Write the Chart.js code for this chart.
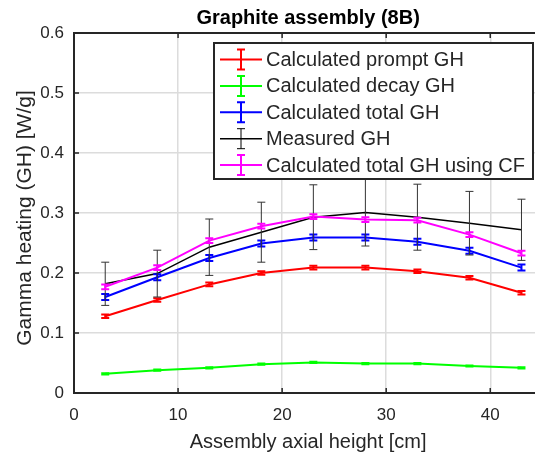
<!DOCTYPE html>
<html>
<head>
<meta charset="utf-8">
<script src="https://cdn.jsdelivr.net/npm/chart.js@4"></script>
<style>
  html, body { margin: 0; padding: 0; background: #fff; }
  #wrap { width: 535px; height: 453px; }
</style>
</head>
<body>
<div id="wrap"><canvas id="gh-chart" width="535" height="453"></canvas></div>
<script>
// axial positions [cm]
const heights = [3, 8, 13, 18, 23, 28, 33, 38, 43];

// gamma heating values [W/g]
const promptGH   = [0.128, 0.155, 0.181, 0.200, 0.209, 0.209, 0.203, 0.192, 0.167];
const decayGH    = [0.032, 0.038, 0.042, 0.048, 0.051, 0.049, 0.049, 0.045, 0.042];
const totalGH    = [0.160, 0.193, 0.225, 0.249, 0.259, 0.259, 0.252, 0.237, 0.209];
const measuredGH = [0.182, 0.199, 0.243, 0.268, 0.293, 0.301, 0.293, 0.283, 0.272];
const totalCF    = [0.177, 0.209, 0.254, 0.278, 0.294, 0.289, 0.288, 0.264, 0.233];

// error bar half-widths
const promptErr   = [0.003, 0.003, 0.003, 0.003, 0.003, 0.003, 0.003, 0.003, 0.003];
const decayErr    = [0.001, 0.001, 0.001, 0.001, 0.001, 0.001, 0.001, 0.001, 0.001];
const totalErr    = [0.005, 0.005, 0.005, 0.005, 0.005, 0.005, 0.005, 0.005, 0.005];
const measuredErr = [0.036, 0.039, 0.047, 0.050, 0.054, 0.056, 0.055, 0.053, 0.051];
const totalCFErr  = [0.004, 0.004, 0.004, 0.004, 0.004, 0.004, 0.004, 0.004, 0.004];

const xTicks = [0, 10, 20, 30, 40];
const yTicks = [0, 0.1, 0.2, 0.3, 0.4, 0.5, 0.6];

const FONT = '"Liberation Sans", Arial, Helvetica, sans-serif';
const TXT = '#262626';

function pts(vals) {
    return heights.map((h, i) => ({ x: h, y: vals[i] }));
}

function mkSet(label, vals, errs, color, width, capW, errW, order) {
    return {
        label,
        data: pts(vals),
        errors: errs,
        borderColor: color,
        backgroundColor: color,
        borderWidth: width,
        pointRadius: 0,
        tension: 0,
        capW, errW,
        order
    };
}

const datasets = [
    mkSet('Calculated prompt GH', promptGH, promptErr, '#ff0000', 2, 4, 2, 5),
    mkSet('Calculated decay GH', decayGH, decayErr, '#00ff00', 2, 4, 2, 4),
    mkSet('Calculated total GH', totalGH, totalErr, '#0000ff', 2, 4, 2, 3),
    mkSet('Measured GH', measuredGH, measuredErr, '#000000', 1.5, 4, 1, 2),
    mkSet('Calculated total GH using CF', totalCF, totalCFErr, '#ff00ff', 2, 4, 2, 1)
];

// error bars drawn through the scales
const errorBars = {
    id: 'errorBars',
    afterDatasetsDraw(chart) {
        const { ctx, scales: { x, y } } = chart;
        ctx.save();
        ctx.beginPath();
        ctx.rect(chart.chartArea.left, chart.chartArea.top, chart.chartArea.width, chart.chartArea.height);
        ctx.clip();
        [...chart.data.datasets].sort((a, b) => b.order - a.order).forEach(ds => {
            ctx.strokeStyle = ds.borderColor === '#000000' ? '#333' : ds.borderColor;
            ctx.lineWidth = ds.errW;
            ds.data.forEach((p, i) => {
                const e = ds.errors[i];
                const px = x.getPixelForValue(p.x);
                const y1 = y.getPixelForValue(p.y - e);
                const y2 = y.getPixelForValue(p.y + e);
                ctx.beginPath();
                ctx.moveTo(px, y1); ctx.lineTo(px, y2);
                ctx.moveTo(px - ds.capW, y1); ctx.lineTo(px + ds.capW, y1);
                ctx.moveTo(px - ds.capW, y2); ctx.lineTo(px + ds.capW, y2);
                ctx.stroke();
            });
        });
        ctx.restore();
    }
};

// MATLAB-like frame, inward ticks, titles and legend
const decorations = {
    id: 'decorations',
    afterDraw(chart) {
        const { ctx, chartArea: a, scales: { x, y } } = chart;
        ctx.save();
        ctx.strokeStyle = '#262626';
        ctx.lineWidth = 2;
        ctx.beginPath();
        ctx.moveTo(a.right + 2, a.top); ctx.lineTo(a.left, a.top);
        ctx.lineTo(a.left, a.bottom); ctx.lineTo(a.right + 2, a.bottom);
        ctx.stroke();

        ctx.lineWidth = 1.5;
        ctx.beginPath();
        xTicks.forEach(v => {
            const px = x.getPixelForValue(v);
            ctx.moveTo(px, a.bottom); ctx.lineTo(px, a.bottom - 5);
            ctx.moveTo(px, a.top); ctx.lineTo(px, a.top + 5);
        });
        yTicks.forEach(v => {
            const py = y.getPixelForValue(v);
            ctx.moveTo(a.left, py); ctx.lineTo(a.left + 5, py);
        });
        ctx.stroke();

        // titles (centred on the full axes box, which runs past the crop)
        const cx = x.getPixelForValue(22.5);
        ctx.fillStyle = '#000';
        ctx.font = 'bold 20px ' + FONT;
        ctx.textAlign = 'center';
        ctx.textBaseline = 'middle';
        ctx.fillText('Graphite assembly (8B)', cx, 18);

        ctx.fillStyle = TXT;
        ctx.font = '20px ' + FONT;
        ctx.fillText('Assembly axial height [cm]', cx, 442);

        ctx.save();
        ctx.translate(25, 218);
        ctx.rotate(-Math.PI / 2);
        ctx.font = '21px ' + FONT;
        ctx.fillText('Gamma heating (GH) [W/g]', 0, 0);
        ctx.restore();

        // legend
        const lx = 214, ly = 43, lw = 319, lh = 136;
        ctx.fillStyle = '#fff';
        ctx.fillRect(lx, ly, lw, lh);
        ctx.strokeStyle = '#262626';
        ctx.lineWidth = 2;
        ctx.strokeRect(lx, ly, lw, lh);

        ctx.font = '20px ' + FONT;
        ctx.textAlign = 'left';
        chart.data.datasets.forEach((ds, i) => {
            const cy = 59.5 + i * 26.4;
            ctx.strokeStyle = ds.borderColor;
            ctx.lineWidth = ds.borderWidth;
            ctx.beginPath();
            ctx.moveTo(220, cy); ctx.lineTo(262, cy);
            ctx.stroke();
            ctx.lineWidth = ds.errW;
            ctx.beginPath();
            ctx.moveTo(241, cy - 10); ctx.lineTo(241, cy + 10);
            ctx.moveTo(237, cy - 10); ctx.lineTo(245, cy - 10);
            ctx.moveTo(237, cy + 10); ctx.lineTo(245, cy + 10);
            ctx.stroke();
            ctx.fillStyle = TXT;
            ctx.fillText(ds.label, 266, cy + 1);
        });
        ctx.restore();
    }
};

new Chart(document.getElementById('gh-chart'), {
    type: 'line',
    data: { datasets },
    options: {
        responsive: false,
        animation: false,
        layout: { padding: { top: 33, right: 0, left: 0, bottom: 0 } },
        plugins: { legend: { display: false }, title: { display: false }, tooltip: { enabled: false } },
        scales: {
            x: {
                type: 'linear',
                min: 0,
                max: 44.3,
                afterFit: s => { s.height = 60; },
                afterBuildTicks: s => { s.ticks = xTicks.map(v => ({ value: v })); },
                grid: { color: '#dcdcdc', lineWidth: 1.5, drawTicks: false },
                border: { display: false },
                ticks: { color: TXT, font: { family: FONT, size: 17 }, padding: 12 }
            },
            y: {
                min: 0,
                max: 0.6,
                afterFit: s => { s.width = 74; },
                afterBuildTicks: s => { s.ticks = yTicks.map(v => ({ value: v })); },
                grid: { color: '#dcdcdc', lineWidth: 1.5, drawTicks: false },
                border: { display: false },
                ticks: { color: TXT, font: { family: FONT, size: 17 }, padding: 10,
                         callback: v => String(Math.round(v * 10) / 10) }
            }
        }
    },
    plugins: [errorBars, decorations]
});
</script>
</body>
</html>
